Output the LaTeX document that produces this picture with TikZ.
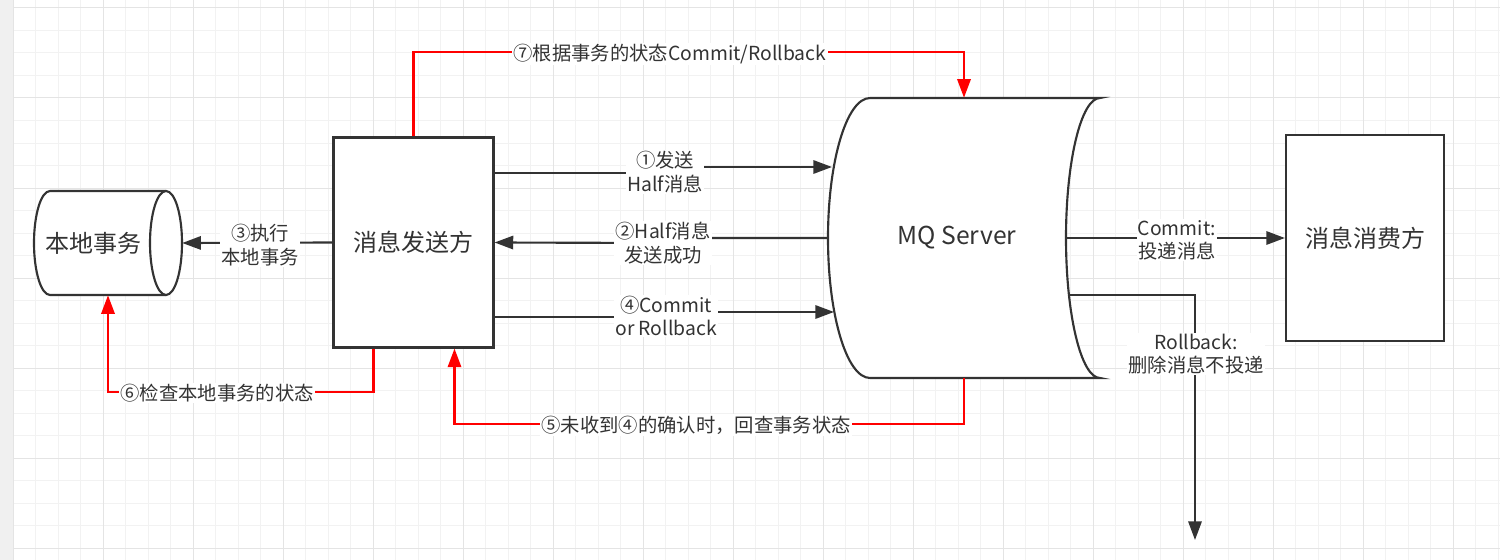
\documentclass[tikz,border=0pt]{standalone}
\usepackage{fontspec}
\setmainfont{Noto Sans CJK SC}
\usetikzlibrary{calc,arrows.meta}
\definecolor{ink}{HTML}{333333}
\definecolor{gridminor}{HTML}{F2F2F2}
\definecolor{gridmajor}{HTML}{E4E4E4}

\begin{document}
\begin{tikzpicture}[x=0.75pt,y=-0.75pt,>={Triangle[length=14pt,width=10pt]},
    ln/.style={ink,line width=1.6pt},
    redln/.style={red,line width=1.8pt},
    box/.style={draw=ink,line width=1.6pt,fill=white,text=ink,font=\fontsize{18}{21}\selectfont},
    lbl/.style={fill=white,text=ink,align=center,inner sep=1pt,font=\fontsize{14.5}{17.5}\selectfont}]
  \useasboundingbox (0,0) rectangle (1500,560);
  % grid
  \fill[white] (0,0) rectangle (1500,560);
  \foreach \x in {13,35.5,...,1500} \draw[gridminor,line width=0.75pt] (\x,0) -- (\x,560);
  \foreach \y in {8,30.5,...,560} \draw[gridminor,line width=0.75pt] (0,\y) -- (1500,\y);
  \foreach \x in {13,103,...,1500} \draw[gridmajor,line width=0.75pt] (\x,0) -- (\x,560);
  \foreach \y in {8,98,...,560} \draw[gridmajor,line width=0.75pt] (0,\y) -- (1500,\y);
  \fill[gray!12] (0,0) rectangle (13,560);

  % local transaction (cylinder)
  \node[minimum width=111pt,minimum height=78pt,inner sep=0] (loc) at (108,243) {};
  \draw[ln,fill=white] (166,191) -- (50,191) arc[start angle=270,end angle=90,x radius=16,y radius=52] -- (166,295);
  \draw[ln,fill=white] (166,243) ellipse [x radius=16,y radius=52];
  \node[text=ink,font=\fontsize{18}{21}\selectfont] (loctxt) at (93,243) {本地事务};

  % sender
  \node[box,minimum width=120pt,minimum height=157.5pt] (snd) at (413.5,242.5) {消息发送方};

  % MQ server
  \node[minimum width=204pt,minimum height=210pt,inner sep=0] (mq) at (964,238) {};
  \draw[ln,fill=white] (870,98) arc[start angle=270,end angle=90,x radius=42,y radius=140]
    -- (1100,378) arc[start angle=90,end angle=270,x radius=34,y radius=140] -- cycle;
  \node[text=ink,font=\fontsize{18.5}{21}\selectfont] (mqtxt) at (957,238) {MQ Server};
  \coordinate (mqa) at (832,167);
  \coordinate (mqc) at (834,312);
  \coordinate (mqd) at (1066,238);
  \coordinate (mqe) at (1069,295);

  % consumer
  \node[box,minimum width=118.5pt,minimum height=154.5pt] (con) at (1365,238) {消息消费方};
  \coordinate (drop) at (1195,540);

  % black connectors
  \draw[ln,->] (snd.east |- 0,173) -- (665,173) -- (665,167) -- (mqa);
  \draw[ln,->] (mq.west) -- (663,238) -- (663,243) -- (snd.east);
  \draw[ln,->] (snd.west) -- (loc.east);
  \draw[ln,->] (snd.east |- 0,317) -- (666,317) -- (666,312) -- (mqc);
  \draw[ln,->] (mqd) -- (con.west);
  \draw[ln,->] (mqe) -| (drop);

  % red connectors
  \draw[redln,->] (mq.south) -- ++(0,46) -| ($(snd.south)+(41,0)$);
  \draw[redln,->] ($(snd.south)+(-40,0)$) -- ++(0,43.5) -| (loc.south);
  \draw[redln,->] (snd.north) -- ++(0,-84.5) -| (mq.north);

  % labels
  \node[lbl] (l1) at (665,172) {①发送\\Half消息};
  \node[lbl] (l2) at (663,243) {②Half消息\\发送成功};
  \node[lbl] (l3) at (260,245) {③执行\\本地事务};
  \node[lbl] (l4) at (666,316) {④Commit\\or Rollback};
  \node[lbl] (l5) at (696,425) {⑤未收到④的确认时，回查事务状态};
  \node[lbl] (l6) at (217,393) {⑥检查本地事务的状态};
  \node[lbl] (l7) at (670,54) {⑦根据事务的状态Commit/Rollback};
  \node[lbl] (l8) at (1177,240) {Commit:\\投递消息};
  \node[lbl] (l9) at (1196,354) {Rollback:\\删除消息不投递};
\end{tikzpicture}
\end{document}
